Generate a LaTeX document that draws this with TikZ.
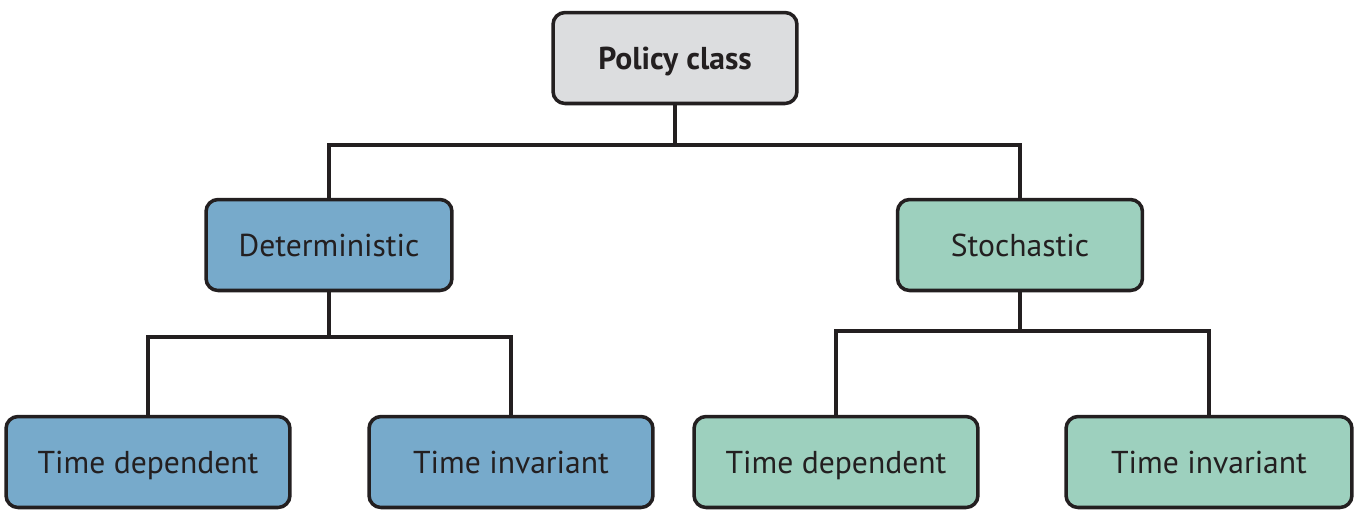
\documentclass[tikz,border=0pt]{standalone}
\usepackage{fontspec}
\setmainfont{PT Sans}
\begin{document}
\begin{tikzpicture}[x=0.02cm,y=-0.02cm,
  box/.style={draw=linec, line width=2pt, rounded corners=0.24cm, inner sep=0pt,
    minimum height=1.82cm, text height=12.8pt, text depth=0pt,
    font=\fontsize{18}{20}\selectfont, text=txtc},
  conn/.style={draw=linec, line width=2pt},
]
\definecolor{linec}{HTML}{231F20}
\definecolor{txtc}{HTML}{231F20}
\definecolor{grayf}{HTML}{DCDDDF}
\definecolor{bluef}{HTML}{77AACB}
\definecolor{greenf}{HTML}{9DD0BE}
\useasboundingbox (0,0) rectangle (1357,512);
\node[box, fill=grayf, minimum width=4.88cm, font=\fontsize{18}{20}\selectfont\bfseries] (pol) at (675,58) {Policy class};
\node[box, fill=bluef, minimum width=4.92cm] (det) at (329,245) {Deterministic};
\node[box, fill=greenf, minimum width=4.9cm] (sto) at (1020,245) {Stochastic};
\node[box, fill=bluef, minimum width=5.68cm] (td1) at (148,462) {Time dependent};
\node[box, fill=bluef, minimum width=5.68cm] (ti1) at (511,462) {Time invariant};
\node[box, fill=greenf, minimum width=5.68cm] (td2) at (836,462) {Time dependent};
\node[box, fill=greenf, minimum width=5.72cm] (ti2) at (1209,462) {Time invariant};
\coordinate (b0) at (675,145);
\coordinate (b1) at (329,337);
\coordinate (b2) at (1020,331);
\draw[conn] (pol.south) -- (b0);
\draw[conn] (det.north) |- (b0) -| (sto.north);
\draw[conn] (det.south) -- (b1);
\draw[conn] (td1.north) |- (b1) -| (ti1.north);
\draw[conn] (sto.south) -- (b2);
\draw[conn] (td2.north) |- (b2) -| (ti2.north);
\end{tikzpicture}
\end{document}
